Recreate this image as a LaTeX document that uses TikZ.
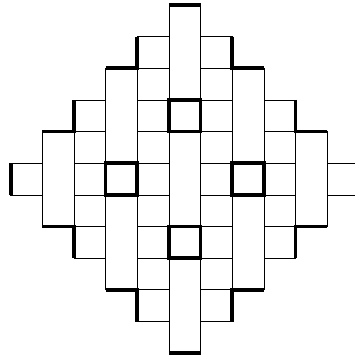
\documentclass[tikz,border=0pt]{standalone}
\usepackage{tikz}
\usetikzlibrary{calc}
\newcommand{\sqtile}[2]{%
  \draw[tileline] (#1,#2) rectangle ++(1,1);
}
\newcommand{\bartile}[2]{%
  \draw[tileline] (#1,#2) rectangle ++(1,3);
}

\begin{document}
\begin{tikzpicture}[tileline/.style={line width=.7pt}, boldline/.style={line width=3.3pt, line join=miter}]
    \useasboundingbox (-0.338,-0.058) rectangle (10.878,11.158);
    \clip (-0.338,-0.058) rectangle (10.878,11.158);
    \foreach \y in {1,...,9} {\sqtile{4}{\y} \sqtile{6}{\y}}
    \foreach \y in {3,...,7} {\sqtile{2}{\y} \sqtile{8}{\y}}
    \foreach \x/\y in {0/5, 10/5, 5/7, 5/3, 3/5, 7/5} {\sqtile{\x}{\y}}
    \foreach \x/\y in {5/0, 5/4, 5/8, 3/2, 3/6, 7/2, 7/6, 1/4, 9/4} {\bartile{\x}{\y}}
    \foreach \x/\y in {5/7, 5/3, 3/5, 7/5} {\draw[boldline] (\x,\y) rectangle ++(1,1);}
    \draw[boldline] (5,11) -- (6,11);
    \draw[boldline] (5,0) -- (6,0);
    \draw[boldline] (0,5) -- (0,6);
    \draw[boldline] (11,5) -- (11,6);
    \draw[boldline] (3,9) -- (4,9) -- (4,10);
    \draw[boldline] (1,7) -- (2,7) -- (2,8);
    \draw[boldline] (1,4) -- (2,4) -- (2,3);
    \draw[boldline] (3,2) -- (4,2) -- (4,1);
    \draw[boldline] (7,10) -- (7,9) -- (8,9);
    \draw[boldline] (9,8) -- (9,7) -- (10,7);
    \draw[boldline] (10,4) -- (9,4) -- (9,3);
    \draw[boldline] (8,2) -- (7,2) -- (7,1);
\end{tikzpicture}
\end{document}
